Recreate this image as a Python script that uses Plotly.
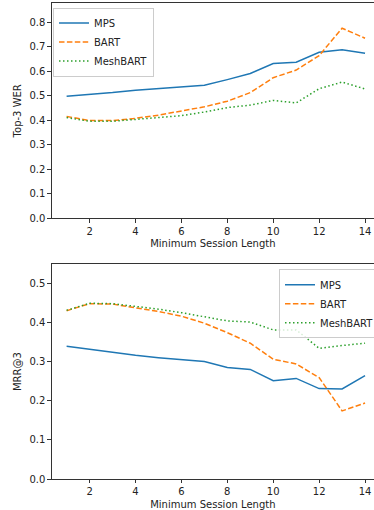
import plotly.graph_objects as go

session_len = [1, 2, 3, 4, 5, 6, 7, 8, 9, 10, 11, 12, 13, 14]

wer_mps = [0.498, 0.505, 0.513, 0.523, 0.530, 0.537, 0.543, 0.566, 0.591, 0.632, 0.637, 0.678, 0.688, 0.674]
wer_bart = [0.416, 0.399, 0.399, 0.408, 0.421, 0.437, 0.455, 0.478, 0.513, 0.574, 0.605, 0.664, 0.776, 0.735]
wer_mesh = [0.411, 0.396, 0.396, 0.403, 0.410, 0.419, 0.434, 0.452, 0.462, 0.481, 0.471, 0.529, 0.556, 0.528]

mrr_mps = [0.339, 0.331, 0.323, 0.316, 0.310, 0.305, 0.300, 0.285, 0.280, 0.251, 0.257, 0.231, 0.230, 0.264]
mrr_bart = [0.430, 0.448, 0.447, 0.438, 0.428, 0.416, 0.398, 0.374, 0.347, 0.306, 0.294, 0.259, 0.174, 0.194]
mrr_mesh = [0.431, 0.449, 0.448, 0.441, 0.434, 0.425, 0.414, 0.404, 0.401, 0.381, 0.381, 0.334, 0.341, 0.347]

series_names = ["MPS", "BART", "MeshBART"]
x_ticks = [2, 4, 6, 8, 10, 12, 14]
wer_ticks = [0.0, 0.1, 0.2, 0.3, 0.4, 0.5, 0.6, 0.7, 0.8]
mrr_ticks = [0.0, 0.1, 0.2, 0.3, 0.4, 0.5]

colors = ["#1f77b4", "#ff7f0e", "#2ca02c"]
dashes = ["solid", "5.5px,2.4px", "1.5px,2.5px"]

W, H = 374, 510
FONT = "DejaVu Sans"
AX = "#333333"

fig = go.Figure()
for name, ys, c, d in zip(series_names, [wer_mps, wer_bart, wer_mesh], colors, dashes):
    fig.add_trace(go.Scatter(x=session_len, y=ys, mode="lines", name=name,
                             line=dict(color=c, width=1.5, dash=d),
                             xaxis="x", yaxis="y", legend="legend"))
for name, ys, c, d in zip(series_names, [mrr_mps, mrr_bart, mrr_mesh], colors, dashes):
    fig.add_trace(go.Scatter(x=session_len, y=ys, mode="lines", name=name,
                             line=dict(color=c, width=1.5, dash=d),
                             xaxis="x2", yaxis="y2", legend="legend2"))

def px_x(v):
    return v / W

def px_y(v):
    return (H - v) / H

x_dom = [px_x(51.7), 1.0]
xrange = [0.35, 14.39]

common_x = dict(range=xrange, tickvals=x_ticks, ticks="outside", ticklen=3.5, tickwidth=0.8,
                tickcolor=AX, showline=True, linecolor=AX, linewidth=0.8, mirror=True,
                showgrid=False, zeroline=False, tickfont=dict(size=10, color="#222"),
                title=dict(text="Minimum Session Length", font=dict(size=10, color="#222"), standoff=4))
common_y = dict(ticks="outside", ticklen=3.5, tickwidth=0.8, tickcolor=AX, showline=True,
                linecolor=AX, linewidth=0.8, mirror=False, showgrid=False, zeroline=False,
                tickformat=".1f", tickfont=dict(size=10, color="#222"))

fig.update_layout(
    width=W, height=H,
    margin=dict(l=0, r=0, t=0, b=0, autoexpand=False),
    paper_bgcolor="white", plot_bgcolor="white",
    font=dict(family=FONT, size=10, color="#222"),
    xaxis=dict(domain=x_dom, anchor="y", **common_x),
    yaxis=dict(domain=[px_y(218.3), px_y(3.3)], anchor="x", range=[0, 0.8776], tickvals=wer_ticks,
               title=dict(text="Top-3 WER", font=dict(size=10, color="#222"), standoff=5), **common_y),
    xaxis2=dict(domain=x_dom, anchor="y2", **common_x),
    yaxis2=dict(domain=[px_y(479), px_y(264.3)], anchor="x2", range=[0, 0.5486], tickvals=mrr_ticks,
                title=dict(text="MRR@3", font=dict(size=10, color="#222"), standoff=5), **common_y),
    legend=dict(x=px_x(53), y=px_y(7.5), xanchor="left", yanchor="top",
                bgcolor="rgba(255,255,255,0.8)", bordercolor="#cccccc", borderwidth=1,
                font=dict(size=10, color="#222"), itemwidth=30, tracegroupgap=0),
    legend2=dict(x=px_x(279), y=px_y(269.3), xanchor="left", yanchor="top",
                 bgcolor="rgba(255,255,255,0.8)", bordercolor="#cccccc", borderwidth=1,
                 font=dict(size=10, color="#222"), itemwidth=30, tracegroupgap=0),
    showlegend=True,
)

fig.write_html("out.html", config={"displayModeBar": False},
               post_script="document.body.style.margin='0';document.body.style.overflow='hidden';")
